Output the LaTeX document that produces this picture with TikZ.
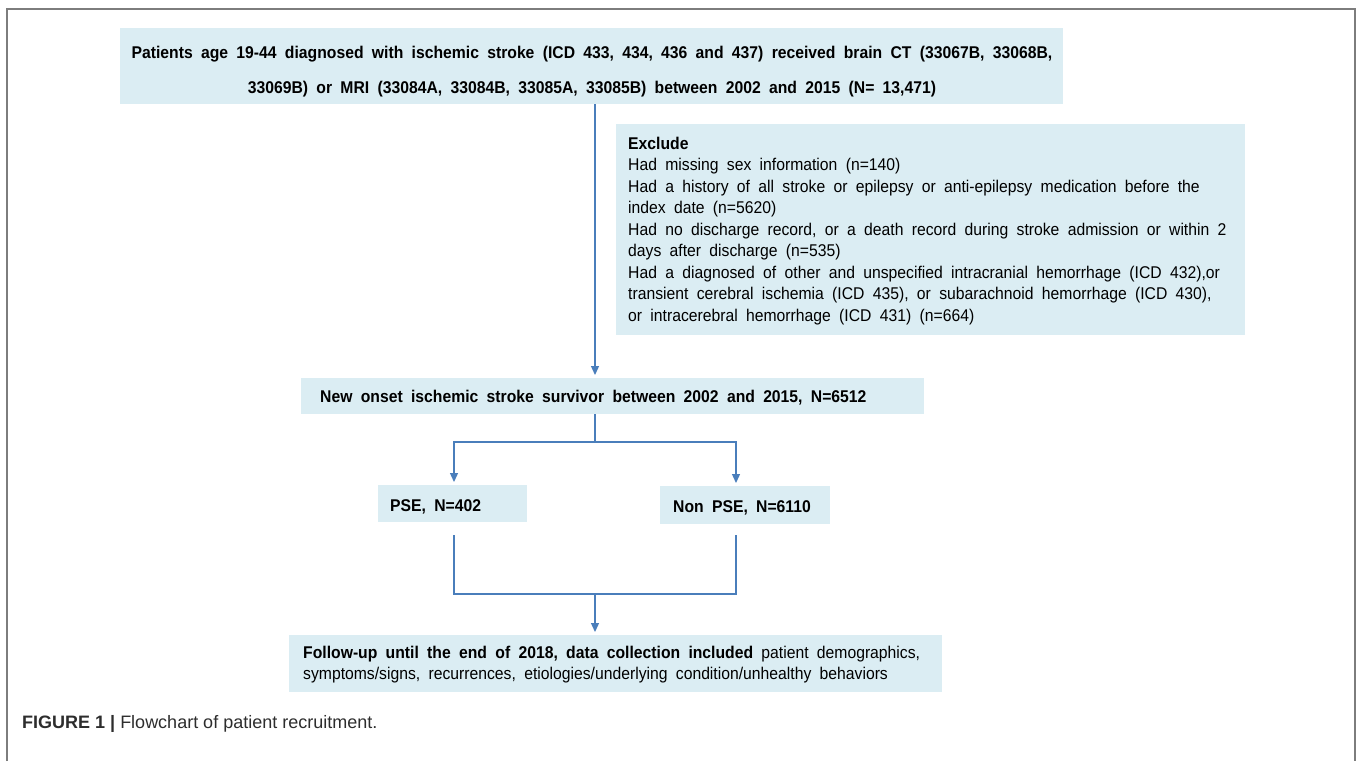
\documentclass[tikz,border=0pt]{standalone}
\usepackage{fontspec}
\setmainfont{Liberation Sans}
\newfontfamily\narrow[FakeStretch=0.925, WordSpace=1.9]{Liberation Sans}
\usetikzlibrary{arrows.meta}
\definecolor{boxfill}{RGB}{219,237,243}
\definecolor{arrowblue}{RGB}{74,126,187}
\definecolor{framegray}{RGB}{125,125,125}
\definecolor{captext}{RGB}{45,45,45}
\tikzset{
  x=1pt, y=-1pt,
  box/.style={fill=boxfill, draw=none, inner sep=0pt, anchor=north west},
  lbl/.style={inner sep=0pt, anchor=west, align=left, text=black, font=\narrow\fontsize{17}{21.5}\selectfont},
  blbl/.style={lbl, font=\narrow\bfseries\fontsize{17}{21.5}\selectfont},
  conn/.style={draw=arrowblue, line width=1.3pt},
  arr/.style={conn, -{Triangle[width=8pt,length=9pt]}, shorten >=3pt},
}
\begin{document}
\begin{tikzpicture}
\useasboundingbox (0,0) rectangle (1357,761);
% outer frame
\draw[framegray, line width=1.6pt] (7,761) -- (7,9) -- (1355,9) -- (1355,761);

% boxes
\node[box, minimum width=943pt, minimum height=76pt] (top) at (120,28) {};
\node[box, minimum width=629pt, minimum height=211pt] (excl) at (616,124) {};
\node[box, minimum width=623pt, minimum height=36pt] (new) at (301,378) {};
\node[box, minimum width=149pt, minimum height=37pt] (pse) at (378,485) {};
\node[box, minimum width=170pt, minimum height=38pt] (npse) at (660,486) {};
\node[box, minimum width=653pt, minimum height=57pt] (fu) at (289,635) {};

% texts
\node[blbl, anchor=center, align=center, font=\narrow\bfseries\fontsize{17}{35}\selectfont] (toptext) at (592,71.5)
  {Patients age 19-44 diagnosed with ischemic stroke (ICD 433, 434, 436 and 437) received brain CT (33067B, 33068B,\\
   33069B) or MRI (33084A, 33084B, 33085A, 33085B) between 2002 and 2015 (N= 13,471)};
\node[lbl] (excltext) at (628,231)
  {\textbf{Exclude}\\
   Had missing sex information (n=140)\\
   Had a history of all stroke or epilepsy or anti-epilepsy medication before the\\
   index date (n=5620)\\
   Had no discharge record, or a death record during stroke admission or within 2\\
   days after discharge (n=535)\\
   Had a diagnosed of other and unspecified intracranial hemorrhage (ICD 432),or\\
   transient cerebral ischemia (ICD 435), or subarachnoid hemorrhage (ICD 430),\\
   or intracerebral hemorrhage (ICD 431) (n=664)};
\node[blbl] (newtext) at (320,398) {New onset ischemic stroke survivor between 2002 and 2015, N=6512};
\node[blbl] (psetext) at (390,507) {PSE, N=402};
\node[blbl] (npsetext) at (673,507.5) {Non PSE, N=6110};
\node[lbl, font=\narrow\fontsize{17}{21}\selectfont] (futext) at (303,665)
  {\textbf{Follow-up until the end of 2018, data collection included} patient demographics,\\
   symptoms/signs, recurrences, etiologies/underlying condition/unhealthy behaviors};

% caption
\node[anchor=west, inner sep=0pt, text=captext, font=\fontsize{18}{21}\selectfont] (cap) at (22,724)
  {\textbf{FIGURE 1 |} Flowchart of patient recruitment.};

% connectors
\coordinate (cx) at (595,0);
\coordinate (lx) at (454,0);
\coordinate (rx) at (736,0);
\coordinate (split) at (595,442);
\coordinate (join) at (595,594);
\coordinate (pseb) at (454,535);
\coordinate (npseb) at (736,535);

\draw[arr] (top.south -| cx) -- (new.north -| cx);
\draw[conn] (new.south -| cx) -- (split);
\draw[arr] (split) -| (pse.north -| lx);
\draw[arr] (split) -| (npse.north -| rx);
\draw[conn] (pseb) |- (join);
\draw[conn] (npseb) |- (join);
\draw[arr] (join) -- (fu.north -| cx);
\end{tikzpicture}
\end{document}
